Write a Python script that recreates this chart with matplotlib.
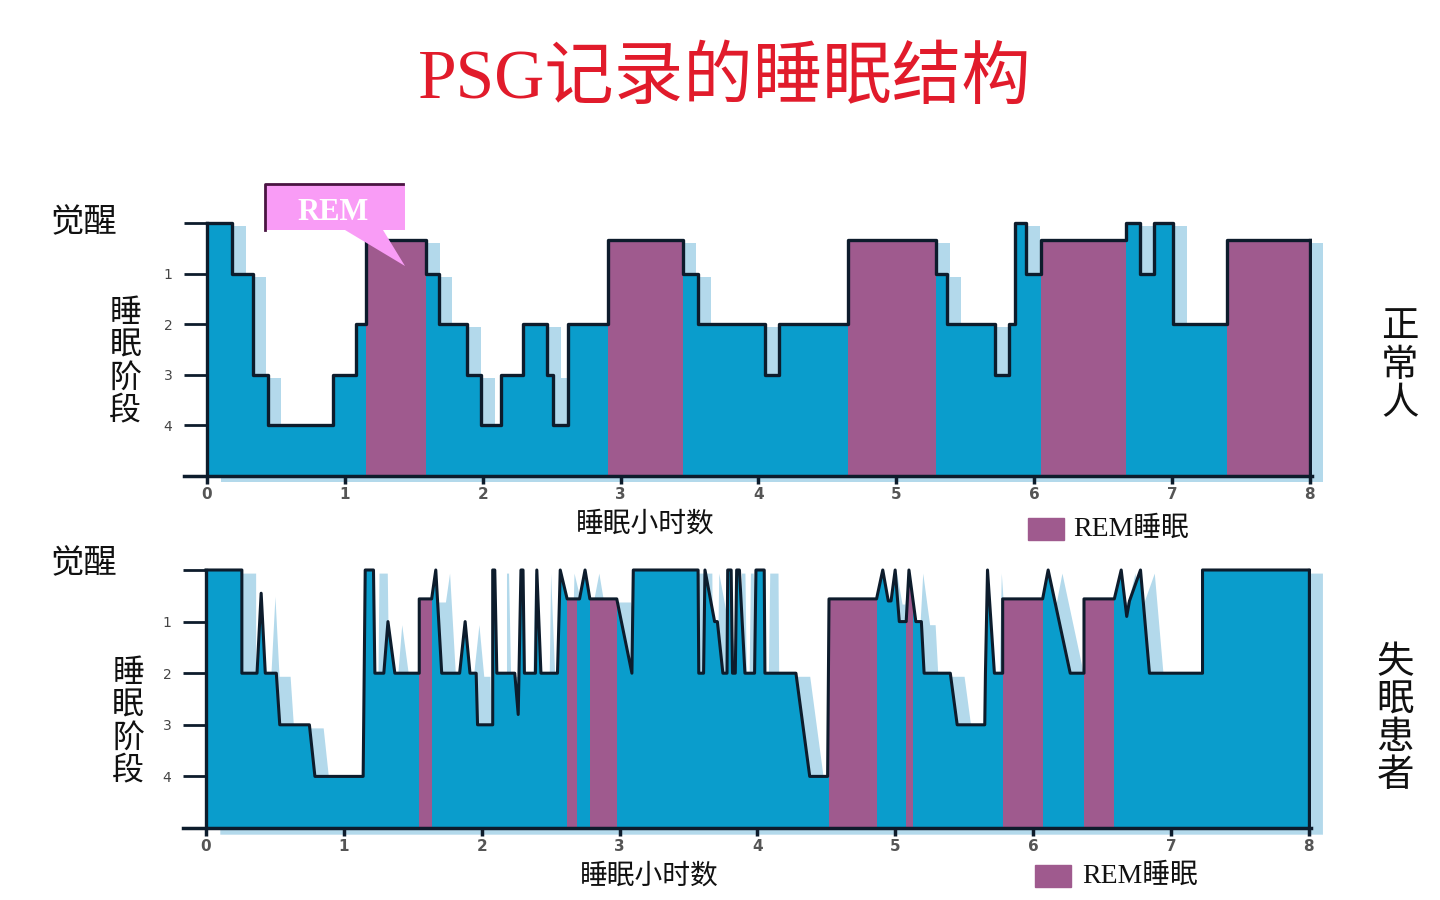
import numpy as np
import matplotlib.pyplot as plt
from matplotlib.patches import Polygon, Rectangle
from matplotlib.lines import Line2D

plt.rcParams['font.family'] = ['Noto Sans CJK SC', 'DejaVu Sans']
MIXED = ['Liberation Serif', 'Noto Sans CJK SC']

BLUE = '#0a9dcc'
SHADOW = '#b3d9eb'
PURPLE = '#9f5a8e'
EDGE = '#0d1c2c'

# ---- normal sleeper: step hypnogram (stage 0 = wake, 5 = axis floor)
REM_N = 0.33
t_normal = [0, 0.18, 0.33, 0.44, 0.915, 1.08, 1.155, 1.59, 1.68, 1.885, 1.99,
            2.13, 2.29, 2.47, 2.51, 2.62, 2.91, 3.45, 3.56, 4.05, 4.15, 4.65,
            5.29, 5.37, 5.72, 5.82, 5.86, 5.94, 6.05, 6.67, 6.77, 6.87, 7.01,
            7.40, 8.0]
s_normal = [0, 1, 3, 4, 3, 2, REM_N, 1, 2, 3, 4,
            3, 2, 3, 4, 2, REM_N, 1, 2, 3, 2,
            REM_N, 1, 2, 3, 2, 0, 1, REM_N, 0, 1, 0,
            2, REM_N]
rem_normal = [(1.155, 1.59), (2.91, 3.45), (4.65, 5.29), (6.05, 6.67), (7.40, 8.0)]

# ---- insomnia patient: polyline hypnogram
REM_I = 0.56
t_insom = [0, 0.26, 0.26, 0.37, 0.40, 0.43, 0.51, 0.535, 0.75, 0.79, 1.14, 1.155,
           1.215, 1.225, 1.29, 1.32, 1.37, 1.547, 1.547, 1.637, 1.667, 1.71,
           1.84, 1.88, 1.915, 1.96, 1.97, 2.08, 2.08, 2.095, 2.11, 2.24, 2.265,
           2.285, 2.30, 2.31, 2.39, 2.40, 2.43, 2.55, 2.57, 2.62, 2.71, 2.75,
           2.785, 2.98, 3.09, 3.10, 3.57, 3.575, 3.61, 3.62, 3.69, 3.71, 3.75,
           3.78, 3.785, 3.81, 3.82, 3.84, 3.85, 3.87, 3.91, 3.98, 3.99, 4.05,
           4.055, 4.28, 4.38, 4.51, 4.52, 4.865, 4.91, 4.95, 4.97, 5.0, 5.03,
           5.08, 5.10, 5.15, 5.19, 5.21, 5.40, 5.45, 5.65, 5.655, 5.67, 5.72,
           5.78, 5.78, 6.07, 6.11, 6.27, 6.37, 6.37, 6.59, 6.64, 6.68, 6.70,
           6.78, 6.845, 7.23, 7.23, 8.0]
s_insom = [0, 0, 2, 2, 0.45, 2, 2, 3, 3, 4, 4, 0,
           0, 2, 2, 1, 2, 2, REM_I, REM_I, 0, 2,
           2, 1, 2, 2, 3, 3, 0, 0, 2, 2, 2.8,
           0, 0, 2, 2, 0, 2, 2, 0, REM_I, REM_I, 0,
           REM_I, REM_I, 2, 0, 0, 2, 2, 0, 1, 1, 2,
           2, 0, 0, 2, 2, 0, 0, 2, 2, 0, 0,
           2, 2, 4, 4, REM_I, REM_I, 0, 0.6, 0.6, 0, 1,
           1, 0, 1, 1, 2, 2, 3, 3, 2, 0, 2,
           2, REM_I, REM_I, 0, 2, 2, REM_I, REM_I, 0, 0.9, 0.6,
           0, 2, 2, 0, 0]
rem_insom = [(1.547, 1.637), (2.62, 2.69), (2.785, 2.98), (4.52, 4.865),
             (5.08, 5.13), (5.78, 6.07), (6.37, 6.59)]

hour_ticks = list(range(9))
stage_ticks = [0, 1, 2, 3, 4, 5]
stage_labels = ['', '1', '2', '3', '4', '']


def hypnogram(ax, t, s, rem, step):
    t = np.array(t)
    s = np.array(s, dtype=float)
    kw = dict(step='post') if step else {}
    if step:
        s = np.append(s, s[-1])
    # soft offset shadow
    ax.fill_between(t + 0.1, s + 0.06, 5.12, color=SHADOW, lw=0, zorder=1,
                    clip_on=False, **kw)
    body = ax.fill_between(t, s, 5, color=BLUE, lw=0, zorder=2, **kw)
    clip = body.get_paths()[0]
    for a, b in rem:
        sp = ax.fill_between([a, b], [-0.2, -0.2], [5, 5], color=PURPLE, lw=0, zorder=3)
        sp.set_clip_path(clip, ax.transData)
    if step:
        ax.step(t, s, where='post', color=EDGE, lw=2.4, zorder=4)
    else:
        ax.plot(t, s, color=EDGE, lw=2.2, zorder=4)
    ax.plot([t[0], t[0]], [s[0], 5], color=EDGE, lw=2.4, zorder=4)
    ax.plot([t[-1], t[-1]], [s[-1], 5], color=EDGE, lw=2.4, zorder=4)

    ax.set_xlim(-0.17, 8.02)
    ax.set_ylim(5, -0.1)
    for sp_name in ['top', 'right', 'left']:
        ax.spines[sp_name].set_visible(False)
    ax.spines['bottom'].set_linewidth(2.5)
    ax.spines['bottom'].set_color(EDGE)
    ax.spines['bottom'].set_zorder(5)
    ax.set_xticks(hour_ticks)
    ax.set_xticklabels([str(h) for h in hour_ticks], fontsize=11,
                       fontweight='bold', color='#555555', family='DejaVu Sans')
    ax.tick_params(axis='x', direction='out', length=6, width=2.5, color=EDGE, pad=2)
    ax.set_yticks(stage_ticks)
    ax.set_yticklabels(stage_labels, fontsize=10, color='#444444', family='DejaVu Sans')
    ax.tick_params(axis='y', direction='in', length=16, width=2, color=EDGE, pad=8)
    ax.patch.set_alpha(0)


fig = plt.figure(figsize=(14.4, 9), dpi=100)

ax1 = fig.add_axes([0.1275, 0.4711, 0.7839, 0.2867])
hypnogram(ax1, t_normal, s_normal, rem_normal, True)
ax2 = fig.add_axes([0.1268, 0.08, 0.7839, 0.2924])
hypnogram(ax2, t_insom, s_insom, rem_insom, False)

fig.text(0.5035, 0.911, 'PSG记录的睡眠结构', color='#e11b2b', fontsize=50,
         family=MIXED, ha='center', va='center')

# side labels
for y in (0.752, 0.374):
    fig.text(0.058, y, '觉醒', fontsize=24, ha='center', va='center', color='#111111')
fig.text(0.087, 0.598, '\n'.join('睡眠阶段'), fontsize=23, ha='center', va='center',
         linespacing=1.02, color='#111111')
fig.text(0.089, 0.198, '\n'.join('睡眠阶段'), fontsize=23, ha='center', va='center',
         linespacing=1.02, color='#111111')
fig.text(0.972, 0.594, '\n'.join('正常人'), fontsize=27, ha='center', va='center',
         linespacing=0.98, color='#111111')
fig.text(0.969, 0.201, '\n'.join('失眠患者'), fontsize=27, ha='center', va='center',
         linespacing=0.95, color='#111111')

fig.text(0.448, 1 - 524 / 900, '睡眠小时数', fontsize=20, ha='center', va='center',
         color='#111111')
fig.text(0.451, 1 - 876 / 900, '睡眠小时数', fontsize=20, ha='center', va='center',
         color='#111111')

# legends
for (x0, y0, tx) in [(1028, 540, 1073), (1035, 887, 1082)]:
    fig.patches.append(Rectangle((x0 / 1440, 1 - y0 / 900), 36 / 1440, 22 / 900,
                                 transform=fig.transFigure, color=PURPLE))
    fig.text(tx / 1440, 1 - (y0 - 11) / 900, 'REM睡眠', fontsize=20, family=MIXED,
             ha='left', va='center', color='#111111')

# REM callout
pts = [(265, 184), (405, 184), (405, 230), (383, 230), (405, 266), (345, 230), (265, 230)]
fig.patches.append(Polygon([(x / 1440, 1 - y / 900) for x, y in pts], closed=True,
                           transform=fig.transFigure, facecolor='#f99cf6',
                           edgecolor='none', zorder=10))
fig.lines.append(Line2D([265 / 1440, 265 / 1440, 403 / 1440],
                        [1 - 230 / 900, 1 - 184 / 900, 1 - 184 / 900],
                        transform=fig.transFigure, color='#4a1442', lw=2, zorder=11))
fig.text(333 / 1440, 1 - 212 / 900, 'REM', fontsize=22, fontweight='bold',
         family=MIXED, color='white', ha='center', va='center', zorder=12)

fig.savefig('out.png', dpi=100)
